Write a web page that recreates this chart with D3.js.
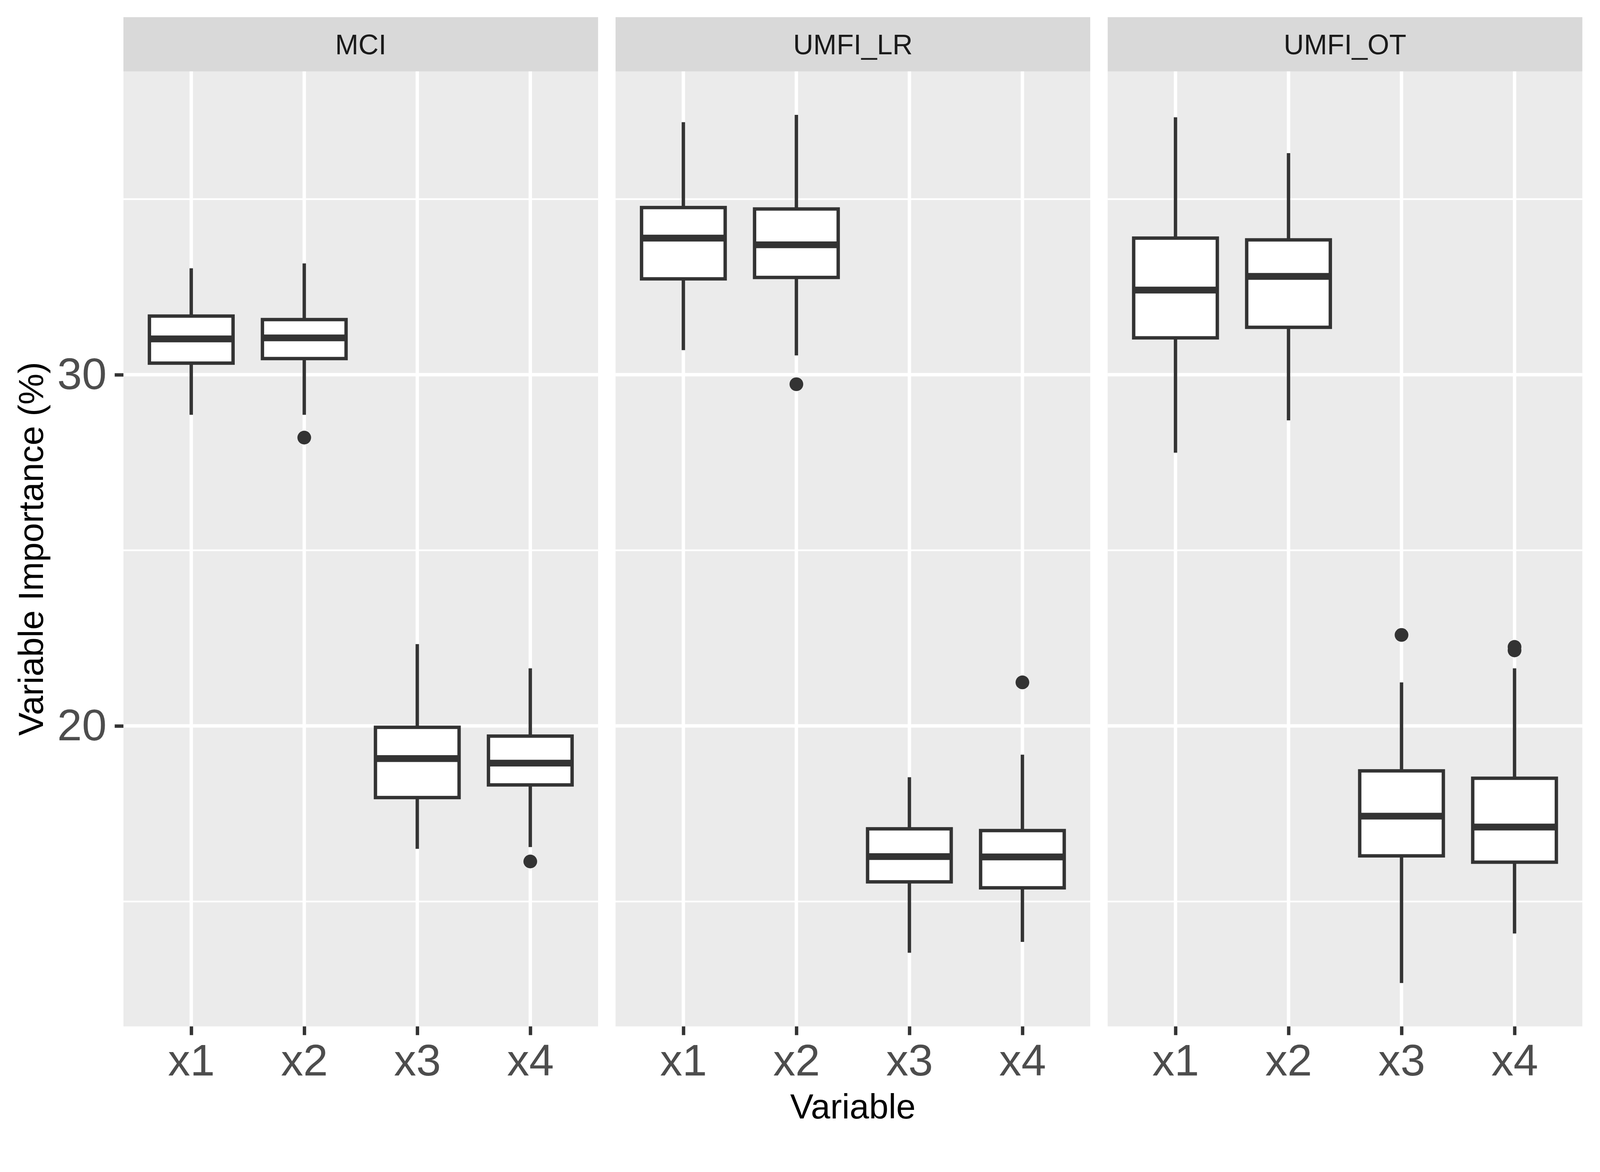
<!DOCTYPE html>
<html>
<head>
<meta charset="utf-8">
<script src="https://cdn.jsdelivr.net/npm/d3@7"></script>
<style>
  html, body { margin: 0; padding: 0; overflow: hidden; background: #fff; }
  svg { display: block; }
  text { font-family: "Liberation Sans", Arial, sans-serif; }
</style>
</head>
<body>
<div id="chart"></div>
<script>
"use strict"

// Facets and categories
const facets = ["MCI", "UMFI_LR", "UMFI_OT"]
const variables = ["x1", "x2", "x3", "x4"]

// Box statistics per facet (order x1..x4)
const whiskerLow = [
    [28.86, 28.86, 16.50, 16.55],
    [30.70, 30.55, 13.54, 13.85],
    [27.78, 28.70, 12.68, 14.09]
]
const lowerQuartile = [
    [30.33, 30.46, 17.96, 18.32],
    [32.73, 32.77, 15.56, 15.39],
    [31.05, 31.35, 16.30, 16.12]
]
const medians = [
    [31.02, 31.05, 19.07, 18.94],
    [33.89, 33.70, 16.28, 16.27],
    [32.41, 32.80, 17.43, 17.12]
]
const upperQuartile = [
    [31.67, 31.57, 19.96, 19.71],
    [34.76, 34.72, 17.07, 17.02],
    [33.89, 33.84, 18.72, 18.51]
]
const whiskerHigh = [
    [33.03, 33.17, 22.33, 21.64],
    [37.19, 37.40, 18.54, 19.18],
    [37.33, 36.31, 21.24, 21.64]
]
// Outliers: [facet, variable, value]
const outliers = [
    ["MCI", "x2", 28.21],
    ["MCI", "x4", 16.14],
    ["UMFI_LR", "x2", 29.73],
    ["UMFI_LR", "x4", 21.24],
    ["UMFI_OT", "x3", 22.59],
    ["UMFI_OT", "x4", 22.25],
    ["UMFI_OT", "x4", 22.15]
]
const yMajor = [20, 30]
const yMinor = [15, 25, 35]

const yTitle = "Variable Importance (%)"
const xTitle = "Variable"

// Layout (600 dpi ggplot look)
const fullwidth = 4200
const fullheight = 3000
const pt = 600 / 72
const lw = 0.5 * 72.27 / 25.4 / 96 * 600   // ggplot linewidth 0.5
const panelLeft = 324
const panelWidth = 1246
const panelGap = 5.5 * pt
const stripTop = 45
const panelTop = 187.5
const panelBottom = 2694

// viewBox so the whole figure fits the window whatever its real size
const svg = d3.select("#chart").append("svg")
    .attr("viewBox", `0 0 ${fullwidth} ${fullheight}`)
    .attr("preserveAspectRatio", "xMinYMin meet")
    .style("width", "100vw")
    .style("height", "100vh")

svg.append("rect").attr("width", fullwidth).attr("height", fullheight).attr("fill", "#fff")

// Shared y scale with ggplot 5% expansion
const allVals = whiskerLow.flat().concat(whiskerHigh.flat(), outliers.map(d => d[2]))
const ext = d3.extent(allVals)
const pad = (ext[1] - ext[0]) * 0.05
const y = d3.scaleLinear()
    .domain([ext[0] - pad, ext[1] + pad])
    .range([panelBottom, panelTop])

const fx = d3.scaleOrdinal()
    .domain(facets)
    .range(facets.map((f, i) => panelLeft + i * (panelWidth + panelGap)))

const x = d3.scalePoint()
    .domain(variables)
    .range([0, panelWidth])
    .padding(0.6)

const boxW = x.step() * 0.74

facets.forEach((facet, fi) => {
    const g = svg.append("g").attr("transform", `translate(${fx(facet)},0)`)

    // strip
    g.append("rect")
        .attr("x", 0).attr("y", stripTop)
        .attr("width", panelWidth).attr("height", panelTop - stripTop)
        .attr("fill", "#D9D9D9")
    g.append("text")
        .attr("x", panelWidth / 2).attr("y", 143)
        .attr("text-anchor", "middle")
        .attr("font-size", 8.8 * pt)
        .attr("fill", "#1A1A1A")
        .text(facet)

    // panel background
    g.append("rect")
        .attr("x", 0).attr("y", panelTop)
        .attr("width", panelWidth).attr("height", panelBottom - panelTop)
        .attr("fill", "#EBEBEB")

    // grid lines
    g.selectAll(".minor").data(yMinor).join("line")
        .attr("x1", 0).attr("x2", panelWidth)
        .attr("y1", d => y(d)).attr("y2", d => y(d))
        .attr("stroke", "#fff").attr("stroke-width", lw / 2)
    g.selectAll(".majorY").data(yMajor).join("line")
        .attr("x1", 0).attr("x2", panelWidth)
        .attr("y1", d => y(d)).attr("y2", d => y(d))
        .attr("stroke", "#fff").attr("stroke-width", lw)
    g.selectAll(".majorX").data(variables).join("line")
        .attr("x1", d => x(d)).attr("x2", d => x(d))
        .attr("y1", panelTop).attr("y2", panelBottom)
        .attr("stroke", "#fff").attr("stroke-width", lw)

    // boxes
    const rows = variables.map((v, i) => ({
        v: v,
        lo: whiskerLow[fi][i],
        q1: lowerQuartile[fi][i],
        med: medians[fi][i],
        q3: upperQuartile[fi][i],
        hi: whiskerHigh[fi][i]
    }))
    const box = g.selectAll(".box").data(rows).join("g")
    box.append("line")
        .attr("x1", d => x(d.v)).attr("x2", d => x(d.v))
        .attr("y1", d => y(d.hi)).attr("y2", d => y(d.q3))
        .attr("stroke", "#333333").attr("stroke-width", lw)
    box.append("line")
        .attr("x1", d => x(d.v)).attr("x2", d => x(d.v))
        .attr("y1", d => y(d.q1)).attr("y2", d => y(d.lo))
        .attr("stroke", "#333333").attr("stroke-width", lw)
    box.append("rect")
        .attr("x", d => x(d.v) - boxW / 2)
        .attr("y", d => y(d.q3))
        .attr("width", boxW)
        .attr("height", d => y(d.q1) - y(d.q3))
        .attr("fill", "#fff")
        .attr("stroke", "#333333").attr("stroke-width", lw)
    box.append("line")
        .attr("x1", d => x(d.v) - boxW / 2).attr("x2", d => x(d.v) + boxW / 2)
        .attr("y1", d => y(d.med)).attr("y2", d => y(d.med))
        .attr("stroke", "#333333").attr("stroke-width", lw * 2)

    g.selectAll(".outlier").data(outliers.filter(d => d[0] === facet)).join("circle")
        .attr("cx", d => x(d[1]))
        .attr("cy", d => y(d[2]))
        .attr("r", 18)
        .attr("fill", "#333333")

    // x axis
    const xAxis = g.append("g")
        .attr("transform", `translate(0,${panelBottom})`)
        .call(d3.axisBottom(x).tickSize(2.75 * pt).tickPadding(23))
    xAxis.select(".domain").remove()
    xAxis.selectAll("line").attr("stroke", "#333333").attr("stroke-width", lw)
    xAxis.selectAll("text")
        .attr("font-size", 14 * pt)
        .attr("font-family", "Liberation Sans, Arial, sans-serif")
        .attr("fill", "#4D4D4D")

    // y axis on first panel only
    if (fi === 0) {
        const yAxis = g.append("g")
            .call(d3.axisLeft(y).tickValues(yMajor).tickSize(2.75 * pt).tickPadding(21))
        yAxis.select(".domain").remove()
        yAxis.selectAll("line").attr("stroke", "#333333").attr("stroke-width", lw)
        yAxis.selectAll("text")
            .attr("font-size", 14 * pt)
            .attr("font-family", "Liberation Sans, Arial, sans-serif")
            .attr("fill", "#4D4D4D")
    }
})

// axis titles
svg.append("text")
    .attr("x", (panelLeft + fx(facets[2]) + panelWidth) / 2)
    .attr("y", 2936)
    .attr("text-anchor", "middle")
    .attr("font-size", 11 * pt)
    .attr("fill", "#000")
    .text(xTitle)

svg.append("text")
    .attr("transform", `translate(113,${(panelTop + panelBottom) / 2}) rotate(-90)`)
    .attr("text-anchor", "middle")
    .attr("font-size", 11 * pt)
    .attr("fill", "#000")
    .text(yTitle)
</script>
</body>
</html>
